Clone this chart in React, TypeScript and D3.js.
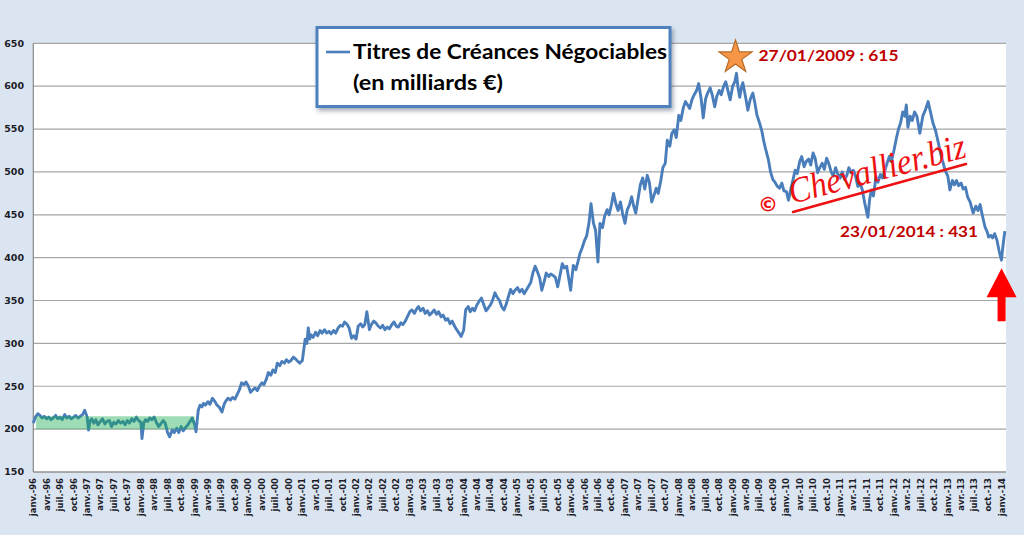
import React from 'react';
import * as d3 from 'd3';

// Titres de Créances Négociables (en milliards €), readings from the chart
const dates: string[] = [
  '1996-01-01','1996-01-15','1996-02-01','1996-02-15','1996-03-01','1996-03-15','1996-04-01','1996-04-15','1996-05-01','1996-05-15','1996-06-01','1996-06-15','1996-07-01','1996-07-15','1996-08-01','1996-08-15','1996-09-01','1996-09-15','1996-10-01','1996-10-15','1996-11-01','1996-11-15','1996-12-01','1996-12-15',
  '1997-01-01','1997-01-10','1997-01-20','1997-02-01','1997-02-15','1997-03-01','1997-03-15','1997-04-01','1997-04-15','1997-05-01','1997-05-15','1997-06-01','1997-06-15','1997-07-01','1997-07-15','1997-08-01','1997-08-15','1997-09-01','1997-09-15','1997-10-01','1997-10-15','1997-11-01','1997-11-15','1997-12-01','1997-12-15',
  '1998-01-01','1998-01-08','1998-01-20','1998-02-01','1998-02-15','1998-03-01','1998-03-15','1998-04-01','1998-04-15','1998-05-01','1998-05-15','1998-06-01','1998-06-15','1998-07-01','1998-07-15','1998-08-01','1998-08-15','1998-09-01','1998-09-15','1998-10-01','1998-10-15','1998-11-01','1998-11-15','1998-12-01','1998-12-15',
  '1999-01-01','1999-01-10','1999-01-25','1999-02-06','1999-02-20','1999-03-01','1999-03-15','1999-04-01','1999-04-15','1999-05-01','1999-05-15','1999-06-01','1999-06-15','1999-07-05','1999-07-20','1999-08-01','1999-08-15','1999-09-01','1999-09-15','1999-10-01','1999-10-15','1999-11-01','1999-11-15','1999-12-01','1999-12-15',
  '2000-01-01','2000-01-15','2000-02-01','2000-02-15','2000-03-01','2000-03-15','2000-04-01','2000-04-15','2000-05-01','2000-05-15','2000-06-01','2000-06-15','2000-07-01','2000-07-15','2000-08-01','2000-08-15','2000-09-01','2000-09-15','2000-10-01','2000-10-15','2000-11-01','2000-11-15','2000-12-01','2000-12-15',
  '2001-01-01','2001-01-10','2001-01-20','2001-02-01','2001-02-10','2001-02-20','2001-03-01','2001-03-15','2001-04-01','2001-04-15','2001-05-01','2001-05-15','2001-06-01','2001-06-15','2001-07-01','2001-07-15','2001-08-01','2001-08-15','2001-09-01','2001-09-15','2001-10-01','2001-10-15','2001-11-01','2001-11-15','2001-12-01','2001-12-15',
  '2002-01-01','2002-01-15','2002-02-01','2002-02-15','2002-03-01','2002-03-15','2002-04-01','2002-04-15','2002-05-01','2002-05-15','2002-06-01','2002-06-15','2002-07-01','2002-07-15','2002-08-01','2002-08-15','2002-09-01','2002-09-15','2002-10-01','2002-10-15','2002-11-01','2002-11-15','2002-12-01','2002-12-15',
  '2003-01-01','2003-01-15','2003-02-01','2003-02-15','2003-03-01','2003-03-15','2003-04-01','2003-04-15','2003-05-01','2003-05-15','2003-06-01','2003-06-15','2003-07-01','2003-07-15','2003-08-01','2003-08-15','2003-09-01','2003-09-15','2003-10-01','2003-10-15','2003-11-01','2003-11-15','2003-12-01','2003-12-15',
  '2004-01-01','2004-01-15','2004-02-01','2004-02-15','2004-03-01','2004-03-15','2004-04-01','2004-04-15','2004-05-01','2004-05-15','2004-06-01','2004-06-15','2004-07-01','2004-07-15','2004-08-01','2004-08-15','2004-09-01','2004-09-15','2004-10-01','2004-10-15','2004-11-01','2004-11-15','2004-12-01','2004-12-15',
  '2005-01-01','2005-01-15','2005-02-01','2005-02-15','2005-03-01','2005-03-15','2005-04-01','2005-04-15','2005-05-01','2005-05-15','2005-06-01','2005-06-15','2005-07-01','2005-07-15','2005-08-01','2005-08-15','2005-09-01','2005-09-15','2005-10-01','2005-10-15','2005-11-01','2005-11-15','2005-12-01','2005-12-15','2005-12-28',
  '2006-01-01','2006-01-15','2006-02-01','2006-02-15','2006-03-01','2006-03-15','2006-04-01','2006-04-15','2006-05-01','2006-05-15','2006-06-01','2006-06-15','2006-07-01','2006-07-15','2006-08-01','2006-08-15','2006-09-01','2006-09-15','2006-10-01','2006-10-15','2006-11-01','2006-11-15','2006-12-01','2006-12-15',
  '2007-01-01','2007-01-15','2007-02-01','2007-02-15','2007-03-01','2007-03-15','2007-04-01','2007-04-15','2007-05-01','2007-05-15','2007-06-01','2007-06-15','2007-07-01','2007-07-15','2007-08-01','2007-08-15','2007-09-01','2007-09-15','2007-10-01','2007-10-15','2007-11-01','2007-11-15','2007-12-01','2007-12-15',
  '2008-01-01','2008-01-15','2008-02-01','2008-02-15','2008-03-01','2008-03-15','2008-04-01','2008-04-15','2008-05-01','2008-05-15','2008-06-01','2008-06-15','2008-07-01','2008-07-15','2008-08-01','2008-08-15','2008-09-01','2008-09-15','2008-10-01','2008-10-15','2008-11-01','2008-11-15','2008-12-01','2008-12-15',
  '2009-01-01','2009-01-15','2009-01-27','2009-02-05','2009-02-18','2009-03-01','2009-03-11','2009-04-01','2009-04-14','2009-05-01','2009-05-18','2009-06-01','2009-06-15','2009-07-01','2009-07-19','2009-08-01','2009-08-15','2009-09-01','2009-09-15','2009-10-01','2009-10-15','2009-11-01','2009-11-15','2009-12-01','2009-12-15',
  '2010-01-01','2010-01-15','2010-02-01','2010-02-15','2010-03-01','2010-03-15','2010-04-01','2010-04-15','2010-05-01','2010-05-15','2010-06-01','2010-06-15','2010-07-01','2010-07-15','2010-08-01','2010-08-15','2010-09-01','2010-09-15','2010-10-01','2010-10-15','2010-11-01','2010-11-15','2010-12-01','2010-12-15',
  '2011-01-01','2011-01-15','2011-02-01','2011-02-15','2011-03-01','2011-03-15','2011-04-01','2011-04-15','2011-05-01','2011-05-15','2011-06-01','2011-06-15','2011-07-08','2011-07-20','2011-08-01','2011-08-15','2011-09-01','2011-09-15','2011-10-01','2011-10-15','2011-11-01','2011-11-15','2011-12-01','2011-12-15',
  '2012-01-01','2012-01-15','2012-02-01','2012-02-15','2012-03-01','2012-03-15','2012-03-25','2012-04-05','2012-04-20','2012-05-05','2012-05-20','2012-06-05','2012-06-25','2012-07-15','2012-08-01','2012-08-20','2012-09-05','2012-09-22','2012-10-10','2012-10-27','2012-11-15','2012-12-01','2012-12-13',
  '2013-01-01','2013-01-15','2013-02-01','2013-02-15','2013-03-01','2013-03-15','2013-04-01','2013-04-15','2013-05-01','2013-05-15','2013-06-01','2013-06-22','2013-07-10','2013-07-25','2013-08-08','2013-08-25','2013-09-10','2013-09-25','2013-10-05','2013-10-20','2013-11-01','2013-11-15','2013-12-01','2013-12-15','2013-12-31',
  '2014-01-08','2014-01-15','2014-01-23'
];

const values: number[] = [
  207,214,218,216,213,215,212,214,211,213,216,212,214,211,217,213,215,212,214,216,213,215,217,222,
  214,199,209,212,207,211,205,209,212,206,209,210,203,208,206,210,207,209,205,210,207,212,209,214,210,
  208,189,207,211,209,213,211,214,208,203,206,210,207,196,191,199,196,201,196,203,198,202,205,209,213,
  205,197,222,228,226,230,228,232,229,236,233,228,226,220,229,233,236,234,237,235,240,246,254,252,255,
  250,243,246,248,245,250,254,252,258,266,263,269,266,277,274,279,277,281,278,280,284,282,279,277,
  280,292,305,300,318,305,310,307,313,309,315,312,316,312,314,311,315,312,318,321,320,325,322,318,306,309,
  305,320,323,319,322,337,316,322,326,324,320,318,321,316,319,317,322,325,320,319,324,322,326,331,
  337,339,335,340,343,338,341,335,338,333,336,339,334,337,331,333,327,329,323,326,320,316,312,308,
  315,339,343,337,341,338,345,349,353,346,338,341,345,350,359,354,350,343,339,345,355,363,358,362,
  365,360,363,358,362,366,371,382,390,384,376,362,372,382,378,381,379,377,366,378,393,388,390,375,362,
  370,391,386,395,405,411,420,425,440,463,440,432,395,440,435,448,456,450,462,475,462,455,465,452,
  440,455,462,471,460,452,470,485,493,480,496,488,465,472,481,475,490,505,510,537,530,545,549,540,
  566,560,575,582,578,574,585,590,595,603,585,563,585,592,598,590,576,588,595,590,600,605,594,584,
  600,605,615,600,587,598,604,585,572,585,592,580,566,558,547,535,525,514,500,491,488,483,481,487,478,
  477,467,481,491,502,498,512,518,506,512,515,508,522,516,499,505,510,503,516,510,500,495,505,498,
  493,500,491,496,505,499,502,495,483,487,479,465,447,468,479,472,494,488,497,493,502,510,518,512,
  525,537,550,557,570,565,578,552,565,560,570,565,545,565,572,582,570,557,548,535,520,510,502,
  495,479,490,485,490,484,487,480,482,471,465,452,460,455,462,448,436,430,424,426,423,428,420,408,397,
  410,420,431
];

const yTicks: number[] = [150, 200, 250, 300, 350, 400, 450, 500, 550, 600, 650];
const quarterNames: string[] = ['janv.', 'avr.', 'juil.', 'oct.'];
const legendLines: string[] = ['Titres de Créances Négociables', '(en milliards €)'];
const peakDate = '2009-01-27';
const peakValue = 615;
const peakLabel = '27/01/2009 : 615';
const lowDate = '2014-01-01';
const lowValue = 397;
const endLabel = '23/01/2014 : 431';
const highlightDates: string[] = ['1996-01-20', '1998-12-31'];
const highlightRange: number[] = [200, 215];

const parse = d3.utcParse('%Y-%m-%d');

export default function App() {
  const W = 1024, H = 535;
  const left = 33.3, right = 1006, top = 43.3, bottom = 472;
  const x = d3.scaleUtc()
    .domain([parse('1996-01-01') as Date, parse('2014-01-31') as Date])
    .range([left, right]);
  const y = d3.scaleLinear().domain([150, 650]).range([bottom, top]);

  const data = dates.map((d, i) => ({ t: parse(d) as Date, v: values[i] }));
  const line = d3.line<{ t: Date; v: number }>().x(d => x(d.t)).y(d => y(d.v));

  const quarters = d3.utcMonth.every(3)!.range(parse('1996-01-01') as Date, parse('2014-01-02') as Date);

  const px = x(parse(peakDate) as Date), py = y(peakValue);
  const lx = x(parse(lowDate) as Date), ly = y(lowValue);
  const star = d3.symbol().type(d3.symbolStar).size(340)();

  const hx0 = x(parse(highlightDates[0]) as Date), hx1 = x(parse(highlightDates[1]) as Date);
  const hy0 = y(highlightRange[1]), hy1 = y(highlightRange[0]);

  // arrow under the final low
  const tipY = ly + 8;
  const arrow = d3.path();
  arrow.moveTo(lx, tipY);
  arrow.lineTo(lx + 15, tipY + 29);
  arrow.lineTo(lx + 4, tipY + 29);
  arrow.lineTo(lx + 4, tipY + 53);
  arrow.lineTo(lx - 4, tipY + 53);
  arrow.lineTo(lx - 4, tipY + 29);
  arrow.lineTo(lx - 15, tipY + 29);
  arrow.closePath();

  const axisFont = '"DejaVu Sans", Verdana, sans-serif';
  const titleFont = 'Lato, "Open Sans", sans-serif';

  return (
    <svg width={W} height={H} style={{ position: 'absolute', left: 0, top: 0, display: 'block' }}>
      <defs>
        <filter id="legShadow" x="-10%" y="-20%" width="120%" height="150%">
          <feDropShadow dx="2" dy="3" stdDeviation="2" floodColor="#3a4a60" floodOpacity="0.45" />
        </filter>
      </defs>
      <rect x={0} y={0} width={W} height={H} fill="#dbe5f1" />
      <rect x={left} y={top} width={right - left} height={bottom - top} fill="#ffffff" />

      {yTicks.map(t => (
        <line key={'g' + t} x1={left} x2={right} y1={y(t)} y2={y(t)} stroke="#a6a6a6" strokeWidth={1.2} />
      ))}
      <line x1={left} x2={left} y1={top} y2={bottom} stroke="#868686" strokeWidth={1.2} />
      <line x1={left} x2={right} y1={bottom} y2={bottom} stroke="#868686" strokeWidth={1.2} />

      {yTicks.map(t => (
        <text key={'yl' + t} x={24} y={y(t)} dy="0.35em" textAnchor="end"
          fontFamily={axisFont} fontWeight="bold" fontSize={9.5} fill="#1c1c28">{t}</text>
      ))}

      {quarters.map((q, i) => {
        const qx = x(q);
        const label = quarterNames[q.getUTCMonth() / 3] + '-' + d3.utcFormat('%y')(q);
        return (
          <text key={'xl' + i} transform={`translate(${qx},${bottom + 6}) rotate(-90)`} dy="0.35em"
            textAnchor="end" fontFamily={axisFont} fontWeight="bold" fontSize={8.5} fill="#1c1c28">{label}</text>
        );
      })}

      <path d={line(data) || ''} fill="none" stroke="#4a7ebb" strokeWidth={2.9} strokeLinejoin="round" />

      <rect x={hx0} y={hy0} width={hx1 - hx0} height={hy1 - hy0} fill="rgb(16,170,74)" opacity={0.41} />

      <g filter="url(#legShadow)">
        <rect x={317} y={27.5} width={353} height={79} fill="#ffffff" stroke="#4f81bd" strokeWidth={3} />
      </g>
      <line x1={326} x2={350} y1={52} y2={52} stroke="#4a7ebb" strokeWidth={2.6} />
      <text x={353} y={59} fontFamily={titleFont} fontWeight="bold" fontSize={21} fill="#000"
        textLength={314} lengthAdjust="spacingAndGlyphs">{legendLines[0]}</text>
      <text x={353} y={90} fontFamily={titleFont} fontWeight="bold" fontSize={21} fill="#000"
        textLength={150} lengthAdjust="spacingAndGlyphs">{legendLines[1]}</text>

      <path d={star || ''} transform={`translate(${px - 1},${py - 16})`} fill="#f79646" stroke="#b66a26" strokeWidth={1.2} />
      <text x={px + 22} y={py - 12} fontFamily={titleFont} fontWeight="bold" fontSize={16} fill="#c00000"
        textLength={140} lengthAdjust="spacingAndGlyphs">{peakLabel}</text>
      <text x={978} y={237} textAnchor="end" fontFamily={titleFont} fontWeight="bold" fontSize={16} fill="#c00000"
        textLength={138} lengthAdjust="spacingAndGlyphs">{endLabel}</text>

      <path d={arrow.toString()} fill="#ff0000" />

      <g fill="#ee1111">
        <text x={768} y={204} dy="0.35em" textAnchor="middle" fontFamily={axisFont} fontWeight="bold" fontSize={20}>©</text>
        <text transform="translate(792,204) rotate(-15)" fontFamily='"Liberation Serif", "DejaVu Serif", serif'
          fontStyle="italic" fontSize={36} textLength={182} lengthAdjust="spacingAndGlyphs">Chevallier.biz</text>
        <line x1={793} y1={212} x2={966} y2={164} stroke="#ee1111" strokeWidth={2.6} strokeLinecap="round" />
      </g>
    </svg>
  );
}
